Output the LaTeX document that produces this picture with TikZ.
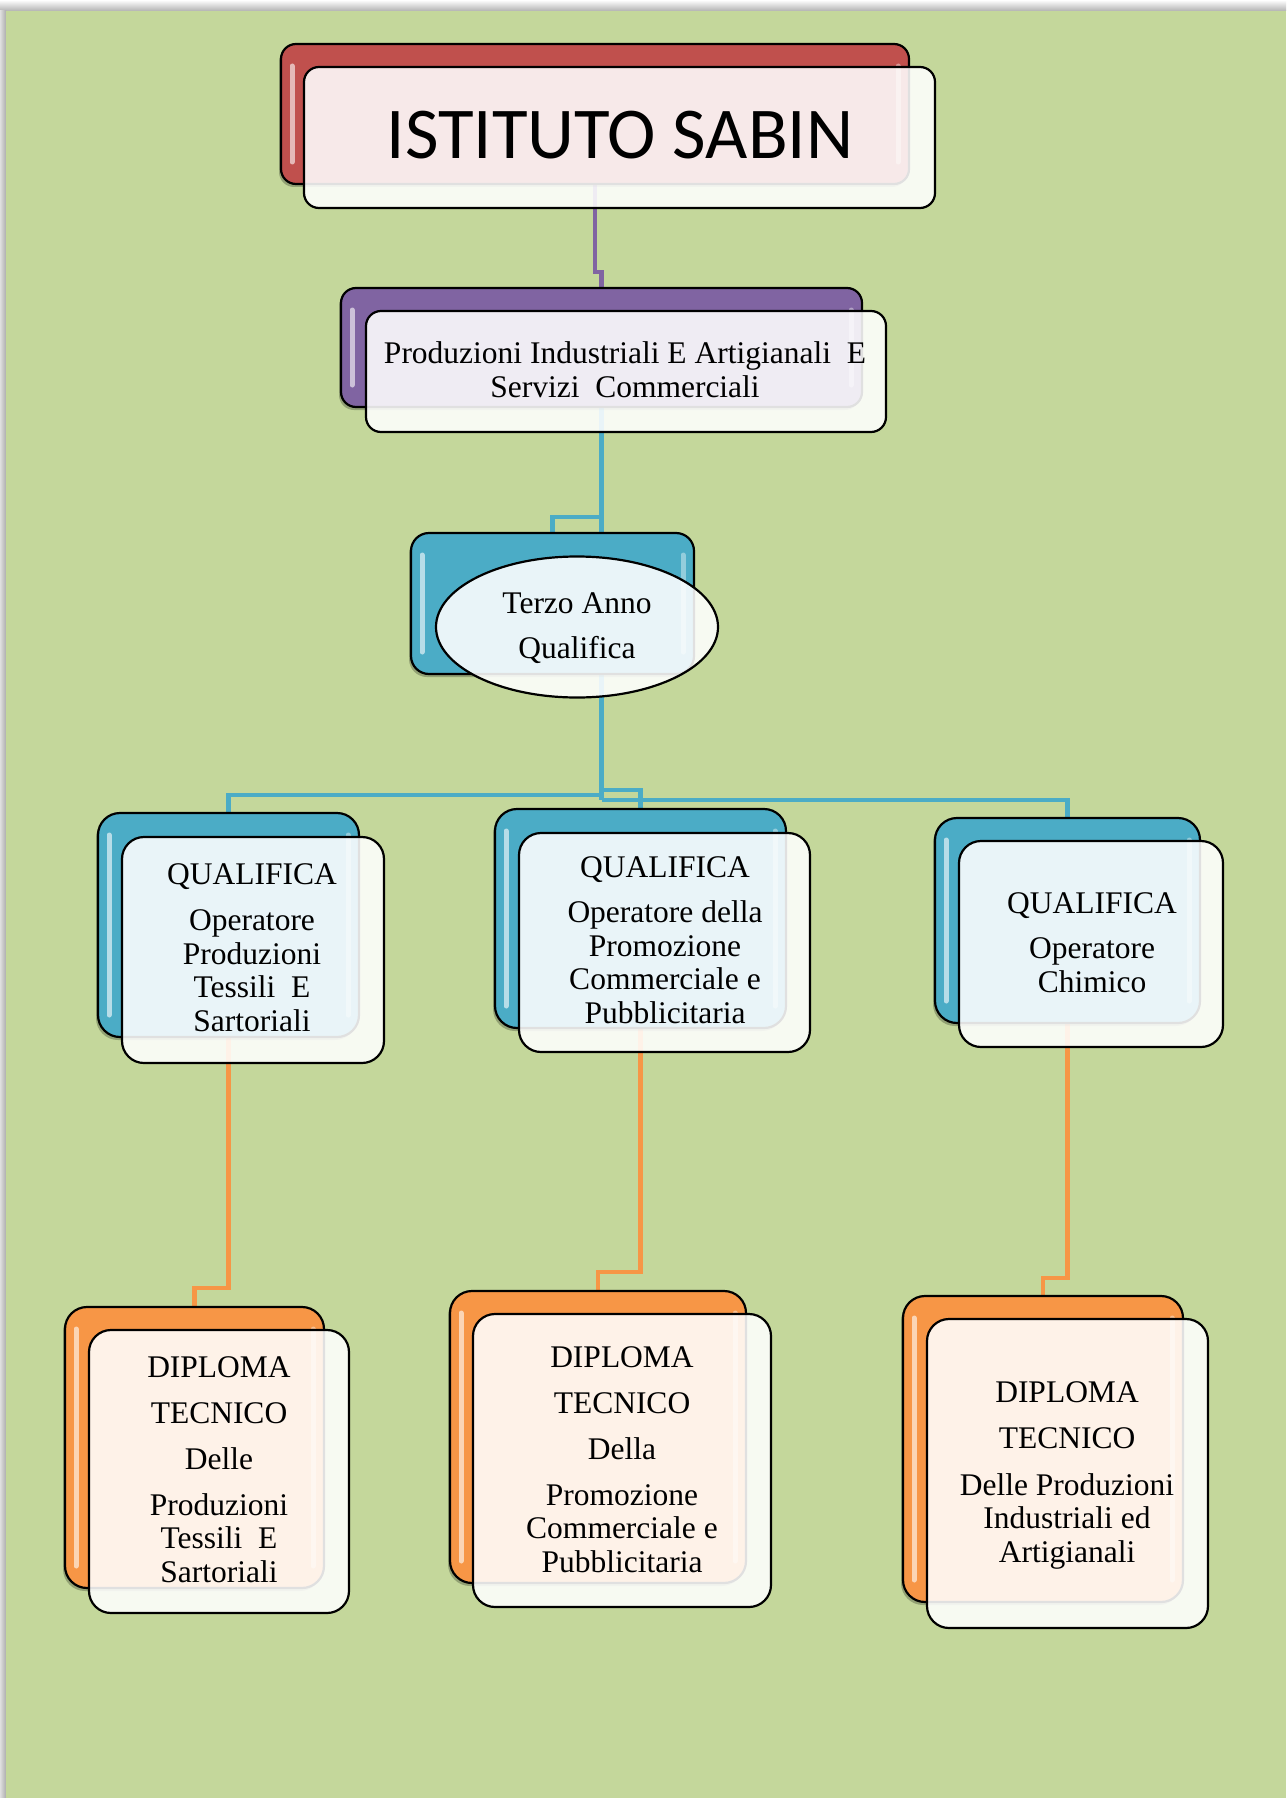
\documentclass[tikz,border=0pt]{standalone}
\usepackage{fontspec}
\usetikzlibrary{shapes.geometric}
\newfontfamily\tnrfont{Liberation Serif}
\newfontfamily\titlefont{Carlito}
\definecolor{bggreen}{HTML}{C4D79B}
\definecolor{accred}{HTML}{C0504D}
\definecolor{accpurple}{HTML}{8064A2}
\definecolor{accblue}{HTML}{4BACC6}
\definecolor{accorange}{HTML}{F79646}
\tikzset{
  backpos/.style={inner sep=0pt, outer sep=0pt, anchor=north west},
  frontbox/.style={draw=black, line width=2.2pt, rounded corners=#1, inner sep=0pt, outer sep=0pt, anchor=north west,
     fill=white, fill opacity=0.88, draw opacity=1},
  hl/.style={draw=white, draw opacity=0.6, line width=5pt, line cap=round},
  conn/.style={line width=4.2pt, line cap=butt, line join=miter},
  txt/.style={font=\tnrfont\fontsize{31.5}{33.5}\selectfont, align=center, anchor=base, inner sep=0pt, text=black},
}
\begin{document}
\begin{tikzpicture}[x=1pt,y=-1pt]
\useasboundingbox (0,0) rectangle (1286,1798);
% page frame
\shade[top color=white, bottom color=gray!60] (0,0) rectangle (1286,11);
\shade[left color=gray!25, right color=gray!65] (0,11) rectangle (6,1798);
\fill[bggreen] (6,11) rectangle (1286,1798);

% coordinates for connector jogs
\coordinate (j1) at (0,272);
\coordinate (j2) at (0,517);
\coordinate (jb1) at (0,795);
\coordinate (jb2) at (0,790);
\coordinate (jb3) at (0,800);
\coordinate (o1) at (0,1288);
\coordinate (o2) at (0,1272);
\coordinate (o3) at (0,1278);

% back box positions
\path node[backpos, minimum width=628pt, minimum height=140pt] (t1b) at (281,44) {}
      node[backpos, minimum width=521pt, minimum height=119pt] (p2b) at (341,288) {}
      node[backpos, minimum width=283pt, minimum height=141pt] (t3b) at (411,533) {}
      node[backpos, minimum width=261pt, minimum height=224pt] (q1b) at (98,813) {}
      node[backpos, minimum width=291pt, minimum height=219pt] (q2b) at (495,809) {}
      node[backpos, minimum width=265pt, minimum height=205pt] (q3b) at (935,818) {}
      node[backpos, minimum width=259pt, minimum height=281pt] (d1b) at (65,1307) {}
      node[backpos, minimum width=296pt, minimum height=292pt] (d2b) at (450,1291) {}
      node[backpos, minimum width=280pt, minimum height=306pt] (d3b) at (903,1296) {};

% connectors
\draw[conn, accpurple] (t1b.south) -- (t1b.south |- j1) -- (p2b.north |- j1) -- (p2b.north);
\draw[conn, accblue] (p2b.south) -- (p2b.south |- jb3);
\draw[conn, accblue] (p2b.south |- j2) -- (t3b.north |- j2) -- (t3b.north);
\draw[conn, accblue] (p2b.south |- jb1) -| (q1b.north);
\draw[conn, accblue] (p2b.south |- jb2) -| (q2b.north);
\draw[conn, accblue] (p2b.south |- jb3) -| (q3b.north);
\draw[conn, accorange] (q1b.south) -- (q1b.south |- o1) -| (d1b.north);
\draw[conn, accorange] (q2b.south) -- (q2b.south |- o2) -| (d2b.north);
\draw[conn, accorange] (q3b.south) -- (q3b.south |- o3) -| (d3b.north);

% back boxes drawn
\foreach \n/\c/\r in {t1b/accred/15, p2b/accpurple/15, t3b/accblue/18, q1b/accblue/22, q2b/accblue/22, q3b/accblue/22, d1b/accorange/22, d2b/accorange/22, d3b/accorange/22}{
  \fill[black, opacity=0.25, rounded corners=\r pt] ([xshift=-2pt,yshift=-3pt]\n.north west) rectangle ([xshift=-2pt,yshift=-3pt]\n.south east);
  \draw[fill=\c, draw=black, line width=2.2pt, rounded corners=\r pt] (\n.north west) rectangle (\n.south east);
  \draw[hl] ([xshift=11pt,yshift=-22pt]\n.north west) -- ([xshift=11pt,yshift=22pt]\n.south west);
  \draw[hl, draw opacity=0.4] ([xshift=-11pt,yshift=-22pt]\n.north east) -- ([xshift=-11pt,yshift=22pt]\n.south east);
}

% front boxes
\node[frontbox=15pt, minimum width=631pt, minimum height=141pt] (t1f) at (304,67) {};
\node[frontbox=15pt, minimum width=520pt, minimum height=121pt] (p2f) at (366,311) {};
\node[draw=black, line width=2.2pt, ellipse, fill=white, fill opacity=0.88, draw opacity=1, inner sep=0pt, minimum width=282pt, minimum height=141pt] (t3e) at (577,627) {};
\node[frontbox=22pt, minimum width=262pt, minimum height=226pt] (q1f) at (122,837) {};
\node[frontbox=22pt, minimum width=291pt, minimum height=219pt] (q2f) at (519,833) {};
\node[frontbox=22pt, minimum width=264pt, minimum height=206pt] (q3f) at (959,841) {};
\node[frontbox=22pt, minimum width=260pt, minimum height=283pt] (d1f) at (89,1330) {};
\node[frontbox=22pt, minimum width=298pt, minimum height=293pt] (d2f) at (473,1314) {};
\node[frontbox=22pt, minimum width=281pt, minimum height=309pt] (d3f) at (927,1319) {};

% texts (anchor=base is the baseline of the last line)
\node[txt, font=\titlefont\fontsize{73}{80}\selectfont] (t1t) at (620,159) {ISTITUTO SABIN};
\node[txt, font=\tnrfont\fontsize{31.5}{34}\selectfont] (p2t) at (625,397) {Produzioni Industriali E Artigianali\ \ E\\Servizi\ \ Commerciali};
\node[txt, font=\tnrfont\fontsize{31.5}{45}\selectfont] (t3t) at (577,658) {Terzo Anno\\Qualifica};
\node[txt] (q1t) at (252,1031) {QUALIFICA\\[12.5pt]Operatore\\Produzioni\\Tessili\ \ E\\Sartoriali};
\node[txt] (q2t) at (665,1023) {QUALIFICA\\[11.5pt]Operatore della\\Promozione\\Commerciale e\\Pubblicitaria};
\node[txt] (q3t) at (1092,992) {QUALIFICA\\[11.5pt]Operatore\\Chimico};
\node[txt] (d1t) at (219,1582) {DIPLOMA\\[12.5pt]TECNICO\\[12.5pt]Delle\\[12.5pt]Produzioni\\Tessili\ \ E\\Sartoriali};
\node[txt] (d2t) at (622,1572) {DIPLOMA\\[12.5pt]TECNICO\\[12.5pt]Della\\[12.5pt]Promozione\\Commerciale e\\Pubblicitaria};
\node[txt] (d3t) at (1067,1562) {DIPLOMA\\[12.5pt]TECNICO\\[13pt]Delle Produzioni\\Industriali ed\\Artigianali};
\end{tikzpicture}
\end{document}
